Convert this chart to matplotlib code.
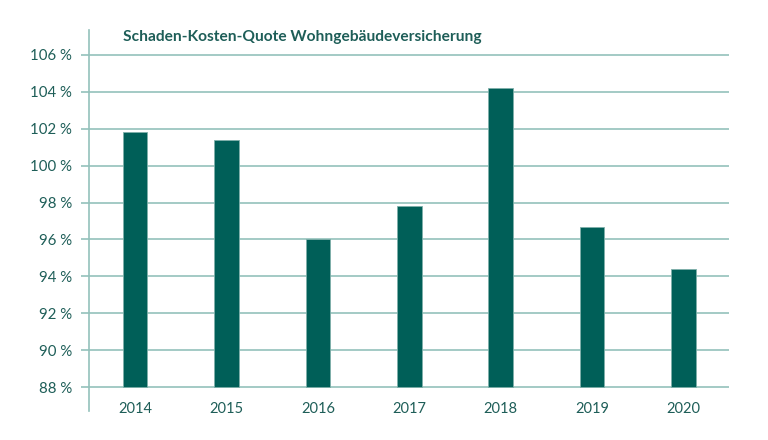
import matplotlib
matplotlib.use("Agg")
import matplotlib.pyplot as plt
from matplotlib.ticker import FixedLocator, FuncFormatter

years = ["2014", "2015", "2016", "2017", "2018", "2019", "2020"]
values = [101.8, 101.4, 96.0, 97.8, 104.2, 96.7, 94.4]
y_ticks = [88, 90, 92, 94, 96, 98, 100, 102, 104, 106]
title = "Schaden-Kosten-Quote Wohngebäudeversicherung"

bar_color = "#005f58"
grid_color = "#93c1bb"
text_color = "#1e5e58"

plt.rcParams['font.family'] = ['Lato', 'DejaVu Sans']

fig = plt.figure(figsize=(7.68, 4.40), dpi=100)
ax = fig.add_axes([89/768, 1-411/440, (729-89)/768, (411-30)/440])

x = list(range(len(years)))
base = y_ticks[0]
ax.bar(x, [v - base for v in values], bottom=base, width=0.27,
       color=bar_color, edgecolor="#7fb0aa", linewidth=0.6, zorder=3)

ax.set_xlim(-0.505, 6.5)
ax.set_ylim(88 - 24/18.45, 106 + 25/18.45)
ax.yaxis.set_major_locator(FixedLocator(y_ticks))
ax.yaxis.set_major_formatter(FuncFormatter(lambda v, p: f"{int(v)} %"))
ax.set_xticks(x)
ax.set_xticklabels(years)

ax.grid(axis="y", color=grid_color, linewidth=1.2, zorder=0)
ax.tick_params(axis="y", length=6, width=1.2, color=grid_color, labelsize=10.8,
               labelcolor=text_color, pad=6)
ax.tick_params(axis="x", length=0, labelsize=10.5, labelcolor=text_color, pad=-6.5)

for s in ["top", "right", "bottom"]:
    ax.spines[s].set_visible(False)
ax.spines["left"].set_color(grid_color)
ax.spines["left"].set_linewidth(1.2)

fig.text(123/768, 1-37/440, title, fontsize=11.2, fontweight="bold",
         color=text_color, va="center", ha="left")

fig.savefig("out.png", dpi=100)
